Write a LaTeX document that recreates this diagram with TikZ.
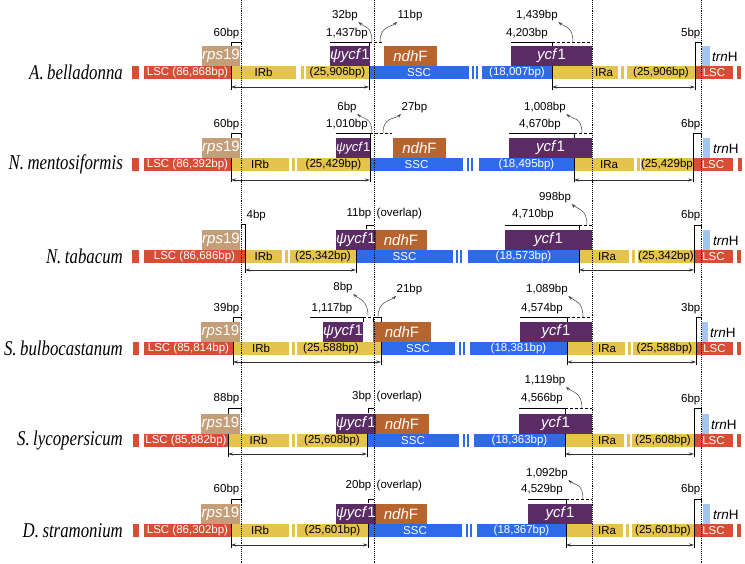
\documentclass[tikz,border=0pt]{standalone}
\usepackage{fontspec}
\setmainfont{Liberation Sans}
\newfontfamily\specfont[FakeStretch=0.8]{Liberation Serif}
\usepackage{tikz}
\usetikzlibrary{arrows.meta}
\definecolor{LSCRed}{HTML}{D64F35}
\definecolor{IRYellow}{HTML}{E4C44C}
\definecolor{SSCBlue}{HTML}{2E6BEA}
\definecolor{RpsTan}{HTML}{C49E78}
\definecolor{YcfPurple}{HTML}{5B2B66}
\definecolor{NdhBrown}{HTML}{B8642E}
\definecolor{TrnBlue}{HTML}{A3C6EE}

\begin{document}
\begin{tikzpicture}[x=1pt, y=-1pt,
  bar/.style={anchor=north west, minimum height=13pt, inner sep=0pt,
              outer sep=0pt, font=\fontsize{11.5}{11.5}\selectfont},
  lscbar/.style={bar, fill=LSCRed, text=white},
  irbar/.style={bar, fill=IRYellow, text=black},
  sscbar/.style={bar, fill=SSCBlue, text=white},
  gene/.style={anchor=south west, minimum height=20pt, inner sep=0pt,
               outer sep=0pt, text=white, font=\fontsize{15}{15}\selectfont},
  lbl/.style={inner sep=0.5pt, font=\fontsize{11.5}{11.5}\selectfont},
  trnlbl/.style={anchor=west, inner sep=0pt, font=\fontsize{13.5}{13.5}\selectfont},
  species/.style={anchor=east, inner sep=0pt,
                  font=\specfont\itshape\fontsize{21}{21}\selectfont},
  border/.style={densely dotted, line width=0.9pt},
  brk/.style={line width=0.7pt},
  gapline/.style={densely dashed, line width=0.7pt},
  curv/.style={-{Stealth[length=4pt,width=3pt]}, line width=0.5pt, black!75},
  span/.style={{Stealth[length=5pt,width=3pt]}-{Stealth[length=5pt,width=3pt]},
               line width=0.6pt, black!80}
]
  \useasboundingbox (0,0) rectangle (745,563);

  % A. belladonna
  \begin{scope}[shift={(0,66)}]
    \node[species] (a-name) at (123,6.5) {A.\,belladonna};
    \node[lscbar, minimum width=7pt] (a-lsc0) at (132,0) {};
    \node[lscbar, minimum width=87pt] (a-lsc1) at (144,0) {LSC (86,868bp)};
    \node[irbar, minimum width=65pt] (a-irb1) at (231,0) {IRb};
    \node[irbar, minimum width=3pt] (a-irb2) at (301,0) {};
    \node[irbar, minimum width=63pt] (a-irb3) at (306,0) {(25,906bp)};
    \node[sscbar, minimum width=100pt] (a-ssc1) at (369,0) {SSC};
    \node[sscbar, minimum width=2pt] (a-ssc2) at (472,0) {};
    \node[sscbar, minimum width=2pt] (a-ssc3) at (476,0) {};
    \node[sscbar, minimum width=70pt] (a-ssc4) at (482,0) {(18,007bp)};
    \node[irbar, minimum width=66pt] (a-ira1) at (552,0) {};
    \node[irbar, minimum width=3pt] (a-ira2) at (621,0) {};
    \node[irbar, minimum width=68pt] (a-ira3) at (627,0) {(25,906bp)};
    \node[lscbar, minimum width=38pt] (a-lsc2) at (695,0) {LSC};
    \node[lscbar, minimum width=4pt] (a-lsc3) at (737,0) {};
    \node[bar, anchor=center] (a-iratxt) at (604,6.5) {IRa};
    \draw[brk] (241,-21) -- (241,-24) -- (231,-24) -- (231,24);
    \draw[brk] (330,-24) -- (369,-24) -- (369,24);
    \draw[gapline] (369,-24) -- (384,-24);
    \draw[brk] (511,-24) -- (552,-24) -- (552,24);
    \draw[gapline] (552,-24) -- (592,-24);
    \draw[brk] (701,-21) -- (701,-24) -- (695,-24) -- (695,24);
    \node[gene, fill=RpsTan, minimum width=38pt] (a-rps) at (202,0) {\textit{rps}19};
    \node[gene, fill=YcfPurple, minimum width=38pt] (a-psi) at (330,0) {\textit{ψycf}1};
    \node[gene, fill=NdhBrown, minimum width=53pt] (a-ndh) at (384,0) {\textit{ndh}F};
    \node[gene, fill=YcfPurple, minimum width=81pt] (a-ycf) at (511,0) {\textit{ycf}1};
    \node[gene, fill=TrnBlue, minimum width=8pt] (a-trn) at (702,0) {};
    \node[trnlbl] (a-trnl) at (712,-9) {\textit{trn}H};
    \node[lbl, anchor=south east] (a-l60) at (240,-26) {60bp};
    \node[lbl, anchor=south] (a-l1437) at (347,-26) {1,437bp};
    \node[lbl] (a-l32) at (345,-50) {32bp};
    \node[lbl, anchor=west] (a-l11) at (397,-50) {11bp};
    \node[lbl, anchor=south] (a-l4203) at (527,-26) {4,203bp};
    \node[lbl] (a-l1439) at (537,-50) {1,439bp};
    \node[lbl, anchor=south east] (a-l5) at (701,-26) {5bp};
    \draw[curv] (372,-24) coordinate (a-c32) .. controls +(0,-16) and +(6,5) .. (a-l32.south east);
    \draw[curv] (380,-24) coordinate (a-c11) .. controls +(0,-16) and +(-6,5) .. (a-l11.south west);
    \draw[curv] (573,-24) coordinate (a-c1439) .. controls +(0,-16) and +(6,5) .. (a-l1439.south east);
    \coordinate (a-j1) at (231,21);
    \coordinate (a-j2) at (369,21);
    \coordinate (a-j3) at (552,21);
    \coordinate (a-j4) at (695,21);
    \draw[span] (a-j1) -- (a-j2);
    \draw[span] (a-j3) -- (a-j4);
  \end{scope}

  % N. mentosiformis
  \begin{scope}[shift={(0,158)}]
    \node[species] (m-name) at (123,6.5) {N.\,mentosiformis};
    \node[lscbar, minimum width=7pt] (m-lsc0) at (132,0) {};
    \node[lscbar, minimum width=87pt] (m-lsc1) at (144,0) {LSC (86,392bp)};
    \node[irbar, minimum width=58pt] (m-irb1) at (231,0) {IRb};
    \node[irbar, minimum width=3pt] (m-irb2) at (292,0) {};
    \node[irbar, minimum width=73pt] (m-irb3) at (297,0) {(25,429bp)};
    \node[sscbar, minimum width=93pt] (m-ssc1) at (370,0) {SSC};
    \node[sscbar, minimum width=2pt] (m-ssc2) at (467,0) {};
    \node[sscbar, minimum width=2pt] (m-ssc3) at (471,0) {};
    \node[sscbar, minimum width=95pt] (m-ssc4) at (479,0) {(18,495bp)};
    \node[irbar, minimum width=60pt] (m-ira1) at (574,0) {};
    \node[irbar, minimum width=3pt] (m-ira2) at (637,0) {};
    \node[irbar, minimum width=52pt] (m-ira3) at (641,0) {(25,429bp)};
    \node[lscbar, minimum width=40pt] (m-lsc2) at (693,0) {LSC};
    \node[lscbar, minimum width=4pt] (m-lsc3) at (738,0) {};
    \node[bar, anchor=center] (m-iratxt) at (609,6.5) {IRa};
    \draw[brk] (241,-21) -- (241,-25) -- (231,-25) -- (231,24);
    \draw[brk] (336,-25) -- (370,-25) -- (370,24);
    \draw[gapline] (370,-25) -- (392,-25);
    \draw[brk] (509,-25) -- (574,-25) -- (574,24);
    \draw[gapline] (574,-25) -- (592,-25);
    \draw[brk] (701,-21) -- (701,-25) -- (693,-25) -- (693,24);
    \node[gene, fill=RpsTan, minimum width=38pt] (m-rps) at (202,0) {\textit{rps}19};
    \node[gene, fill=YcfPurple, minimum width=34pt, font=\fontsize{13}{13}\selectfont] (m-psi) at (336,0) {\textit{ψycf}1};
    \node[gene, fill=NdhBrown, minimum width=53pt] (m-ndh) at (393,0) {\textit{ndh}F};
    \node[gene, fill=YcfPurple, minimum width=83pt] (m-ycf) at (509,0) {\textit{ycf}1};
    \node[gene, fill=TrnBlue, minimum width=7pt] (m-trn) at (703,0) {};
    \node[trnlbl] (m-trnl) at (713,-9) {\textit{trn}H};
    \node[lbl, anchor=south east] (m-l60) at (240,-27) {60bp};
    \node[lbl, anchor=south] (m-l1010) at (347,-27) {1,010bp};
    \node[lbl] (m-l6a) at (347,-50) {6bp};
    \node[lbl, anchor=west] (m-l27) at (401,-50) {27bp};
    \node[lbl, anchor=south] (m-l4670) at (540,-27) {4,670bp};
    \node[lbl] (m-l1008) at (545,-50) {1,008bp};
    \node[lbl, anchor=south east] (m-l6b) at (701,-27) {6bp};
    \draw[curv] (372,-25) coordinate (m-c6) .. controls +(0,-16) and +(6,5) .. (m-l6a.south east);
    \draw[curv] (383,-25) coordinate (m-c27) .. controls +(0,-16) and +(-6,5) .. (m-l27.south west);
    \draw[curv] (582,-25) coordinate (m-c1008) .. controls +(0,-16) and +(6,5) .. (m-l1008.south east);
    \coordinate (m-j1) at (231,22);
    \coordinate (m-j2) at (370,22);
    \coordinate (m-j3) at (574,22);
    \coordinate (m-j4) at (693,22);
    \draw[span] (m-j1) -- (m-j2);
    \draw[span] (m-j3) -- (m-j4);
  \end{scope}

  % N. tabacum
  \begin{scope}[shift={(0,250)}]
    \node[species] (t-name) at (123,6.5) {N.\,tabacum};
    \node[lscbar, minimum width=7pt] (t-lsc0) at (132,0) {};
    \node[lscbar, minimum width=101pt] (t-lsc1) at (144,0) {LSC (86,686bp)};
    \node[irbar, minimum width=37pt] (t-irb1) at (245,0) {IRb};
    \node[irbar, minimum width=3pt] (t-irb2) at (285,0) {};
    \node[irbar, minimum width=66pt] (t-irb3) at (290,0) {(25,342bp)};
    \node[sscbar, minimum width=97pt] (t-ssc1) at (356,0) {SSC};
    \node[sscbar, minimum width=2pt] (t-ssc2) at (456,0) {};
    \node[sscbar, minimum width=2pt] (t-ssc3) at (460,0) {};
    \node[sscbar, minimum width=111pt] (t-ssc4) at (468,0) {(18,573bp)};
    \node[irbar, minimum width=50pt] (t-ira1) at (579,0) {};
    \node[irbar, minimum width=3pt] (t-ira2) at (632,0) {};
    \node[irbar, minimum width=56pt] (t-ira3) at (638,0) {(25,342bp)};
    \node[lscbar, minimum width=39pt] (t-lsc2) at (694,0) {LSC};
    \node[lscbar, minimum width=4pt] (t-lsc3) at (737,0) {};
    \node[bar, anchor=center] (t-iratxt) at (607,6.5) {IRa};
    \draw[brk] (241,-21) -- (241,-26) -- (245,-26) -- (245,23);
    \draw[brk] (356,0) -- (356,23);
    \draw[brk] (366,-21) -- (366,-25) -- (374,-25);
    \draw[brk] (505,-25) -- (579,-25) -- (579,23);
    \draw[gapline] (579,-25) -- (592,-25);
    \draw[brk] (701,-21) -- (701,-25) -- (694,-25) -- (694,23);
    \node[gene, fill=RpsTan, minimum width=38pt] (t-rps) at (202,0) {\textit{rps}19};
    \node[gene, fill=NdhBrown, minimum width=52pt] (t-ndh) at (375,0) {\textit{ndh}F};
    \node[gene, fill=YcfPurple, minimum width=37pt] (t-psi) at (336,0) {\textit{ψycf}1};
    \node[gene, fill=YcfPurple, minimum width=87pt] (t-ycf) at (505,0) {\textit{ycf}1};
    \node[gene, fill=TrnBlue, minimum width=7pt] (t-trn) at (703,0) {};
    \node[trnlbl] (t-trnl) at (713,-9) {\textit{trn}H};
    \node[lbl, anchor=south west] (t-l4) at (246,-28) {4bp};
    \node[lbl, anchor=south east] (t-l11) at (372,-30) {11bp};
    \node[lbl, anchor=south west] (t-lov) at (376,-30) {(overlap)};
    \node[lbl, anchor=south] (t-l4710) at (533,-29) {4,710bp};
    \node[lbl] (t-l998) at (555,-52) {998bp};
    \node[lbl, anchor=south east] (t-l6) at (701,-28) {6bp};
    \draw[curv] (587,-25) coordinate (t-c998) .. controls +(0,-16) and +(6,5) .. (t-l998.south east);
    \coordinate (t-j1) at (245,20);
    \coordinate (t-j2) at (356,20);
    \coordinate (t-j3) at (579,20);
    \coordinate (t-j4) at (694,20);
    \draw[span] (t-j1) -- (t-j2);
    \draw[span] (t-j3) -- (t-j4);
  \end{scope}

  % S. bulbocastanum
  \begin{scope}[shift={(0,342)}]
    \node[species] (b-name) at (123,6.5) {S.\,bulbocastanum};
    \node[lscbar, minimum width=6pt] (b-lsc0) at (133,0) {};
    \node[lscbar, minimum width=89pt] (b-lsc1) at (144,0) {LSC (85,814bp)};
    \node[irbar, minimum width=56pt] (b-irb1) at (233,0) {IRb};
    \node[irbar, minimum width=3pt] (b-irb2) at (292,0) {};
    \node[irbar, minimum width=84pt] (b-irb3) at (297,0) {};
    \node[bar, anchor=center] (b-irbtxt) at (331,6.5) {(25,588bp)};
    \node[sscbar, minimum width=74pt] (b-ssc1) at (381,0) {SSC};
    \node[sscbar, minimum width=2pt] (b-ssc2) at (459,0) {};
    \node[sscbar, minimum width=2pt] (b-ssc3) at (463,0) {};
    \node[sscbar, minimum width=97pt] (b-ssc4) at (470,0) {(18,381bp)};
    \node[irbar, minimum width=58pt] (b-ira1) at (567,0) {};
    \node[irbar, minimum width=3pt] (b-ira2) at (628,0) {};
    \node[irbar, minimum width=63pt] (b-ira3) at (633,0) {(25,588bp)};
    \node[lscbar, minimum width=37pt] (b-lsc2) at (696,0) {LSC};
    \node[lscbar, minimum width=4pt] (b-lsc3) at (737,0) {};
    \node[bar, anchor=center] (b-iratxt) at (607,6.5) {IRa};
    \draw[brk] (241,-22) -- (241,-25) -- (233,-25) -- (233,23);
    \draw[brk] (310,-25) -- (363,-25) -- (363,-20);
    \draw[gapline] (363,-25) -- (373,-25);
    \draw[brk] (373,-20) -- (373,-25) -- (381,-25) -- (381,23);
    \draw[brk] (520,-25) -- (567,-25) -- (567,23);
    \draw[gapline] (567,-25) -- (592,-25);
    \draw[brk] (701,-22) -- (701,-25) -- (696,-25) -- (696,23);
    \node[gene, fill=RpsTan, minimum width=39pt] (b-rps) at (201,0) {\textit{rps}19};
    \node[gene, fill=YcfPurple, minimum width=40pt] (b-psi) at (323,0) {\textit{ψycf}1};
    \node[gene, fill=NdhBrown, minimum width=58pt] (b-ndh) at (373,0) {\textit{ndh}F};
    \node[gene, fill=YcfPurple, minimum width=72pt] (b-ycf) at (520,0) {\textit{ycf}1};
    \node[gene, fill=TrnBlue, minimum width=6pt] (b-trn) at (702,0) {};
    \node[trnlbl] (b-trnl) at (710,-9) {\textit{trn}H};
    \node[lbl, anchor=south east] (b-l39) at (240,-27) {39bp};
    \node[lbl, anchor=south] (b-l1117) at (332,-27) {1,117bp};
    \node[lbl] (b-l8) at (343,-54) {8bp};
    \node[lbl, anchor=west] (b-l21) at (396,-52) {21bp};
    \node[lbl, anchor=south] (b-l4574) at (542,-27) {4,574bp};
    \node[lbl] (b-l1089) at (547,-52) {1,089bp};
    \node[lbl, anchor=south east] (b-l3) at (701,-27) {3bp};
    \draw[curv] (368,-27) coordinate (b-c8) .. controls +(0,-14) and +(6,5) .. (b-l8.south east);
    \draw[curv] (378,-25) coordinate (b-c21) .. controls +(0,-16) and +(-6,5) .. (b-l21.south west);
    \draw[curv] (583,-25) coordinate (b-c1089) .. controls +(0,-16) and +(6,5) .. (b-l1089.south east);
    \coordinate (b-j1) at (233,20);
    \coordinate (b-j2) at (381,20);
    \coordinate (b-j3) at (567,20);
    \coordinate (b-j4) at (696,20);
    \draw[span] (b-j1) -- (b-j2);
    \draw[span] (b-j3) -- (b-j4);
  \end{scope}

  % S. lycopersicum
  \begin{scope}[shift={(0,434)}]
    \node[species] (l-name) at (123,6.5) {S.\,lycopersicum};
    \node[lscbar, minimum width=6pt] (l-lsc0) at (133,0) {};
    \node[lscbar, minimum width=84pt] (l-lsc1) at (144,0) {LSC (85,882bp)};
    \node[irbar, minimum width=61pt] (l-irb1) at (228,0) {IRb};
    \node[irbar, minimum width=3pt] (l-irb2) at (292,0) {};
    \node[irbar, minimum width=70pt] (l-irb3) at (297,0) {(25,608bp)};
    \node[sscbar, minimum width=92pt] (l-ssc1) at (367,0) {SSC};
    \node[sscbar, minimum width=2pt] (l-ssc2) at (463,0) {};
    \node[sscbar, minimum width=2pt] (l-ssc3) at (467,0) {};
    \node[sscbar, minimum width=91pt] (l-ssc4) at (474,0) {(18,363bp)};
    \node[irbar, minimum width=59pt] (l-ira1) at (565,0) {};
    \node[irbar, minimum width=3pt] (l-ira2) at (627,0) {};
    \node[irbar, minimum width=62pt] (l-ira3) at (632,0) {(25,608bp)};
    \node[lscbar, minimum width=39pt] (l-lsc2) at (694,0) {LSC};
    \node[lscbar, minimum width=4pt] (l-lsc3) at (737,0) {};
    \node[bar, anchor=center] (l-iratxt) at (607,6.5) {IRa};
    \draw[brk] (241,-22) -- (241,-26) -- (228,-26) -- (228,23);
    \draw[brk] (367,0) -- (367,23);
    \draw[brk] (368,-21) -- (368,-26) -- (374,-26);
    \draw[brk] (519,-26) -- (565,-26) -- (565,23);
    \draw[gapline] (565,-26) -- (592,-26);
    \draw[brk] (701,-22) -- (701,-26) -- (694,-26) -- (694,23);
    \node[gene, fill=RpsTan, minimum width=39pt] (l-rps) at (201,0) {\textit{rps}19};
    \node[gene, fill=NdhBrown, minimum width=54pt] (l-ndh) at (375,0) {\textit{ndh}F};
    \node[gene, fill=YcfPurple, minimum width=37pt] (l-psi) at (336,0) {\textit{ψycf}1};
    \node[gene, fill=YcfPurple, minimum width=73pt] (l-ycf) at (519,0) {\textit{ycf}1};
    \node[gene, fill=TrnBlue, minimum width=7pt] (l-trn) at (702,0) {};
    \node[trnlbl] (l-trnl) at (711,-9) {\textit{trn}H};
    \node[lbl, anchor=south east] (l-l88) at (240,-29) {88bp};
    \node[lbl, anchor=south east] (l-l3) at (372,-31) {3bp};
    \node[lbl, anchor=south west] (l-lov) at (376,-31) {(overlap)};
    \node[lbl, anchor=south] (l-l4566) at (542,-29) {4,566bp};
    \node[lbl] (l-l1119) at (545,-53) {1,119bp};
    \node[lbl, anchor=south east] (l-l6) at (701,-28) {6bp};
    \draw[curv] (582,-26) coordinate (l-c1119) .. controls +(0,-16) and +(6,5) .. (l-l1119.south east);
    \coordinate (l-j1) at (228,20);
    \coordinate (l-j2) at (367,20);
    \coordinate (l-j3) at (565,20);
    \coordinate (l-j4) at (694,20);
    \draw[span] (l-j1) -- (l-j2);
    \draw[span] (l-j3) -- (l-j4);
  \end{scope}

  % D. stramonium
  \begin{scope}[shift={(0,524)}]
    \node[species] (d-name) at (123,6.5) {D.\,stramonium};
    \node[lscbar, minimum width=6pt] (d-lsc0) at (133,0) {};
    \node[lscbar, minimum width=87pt] (d-lsc1) at (144,0) {LSC (86,302bp)};
    \node[irbar, minimum width=58pt] (d-irb1) at (231,0) {IRb};
    \node[irbar, minimum width=3pt] (d-irb2) at (292,0) {};
    \node[irbar, minimum width=71pt] (d-irb3) at (297,0) {(25,601bp)};
    \node[sscbar, minimum width=94pt] (d-ssc1) at (368,0) {SSC};
    \node[sscbar, minimum width=2pt] (d-ssc2) at (466,0) {};
    \node[sscbar, minimum width=2pt] (d-ssc3) at (470,0) {};
    \node[sscbar, minimum width=89pt] (d-ssc4) at (477,0) {(18,367bp)};
    \node[irbar, minimum width=57pt] (d-ira1) at (566,0) {};
    \node[irbar, minimum width=3pt] (d-ira2) at (626,0) {};
    \node[irbar, minimum width=62pt] (d-ira3) at (632,0) {(25,601bp)};
    \node[lscbar, minimum width=39pt] (d-lsc2) at (694,0) {LSC};
    \node[lscbar, minimum width=4pt] (d-lsc3) at (737,0) {};
    \node[bar, anchor=center] (d-iratxt) at (607,6.5) {IRa};
    \draw[brk] (241,-21) -- (241,-25) -- (231,-25) -- (231,24);
    \draw[brk] (368,0) -- (368,24);
    \draw[brk] (368,-21) -- (368,-25) -- (374,-25);
    \draw[brk] (528,-25) -- (566,-25) -- (566,24);
    \draw[gapline] (566,-25) -- (592,-25);
    \draw[brk] (701,-21) -- (701,-25) -- (694,-25) -- (694,24);
    \node[gene, fill=RpsTan, minimum width=39pt] (d-rps) at (201,0) {\textit{rps}19};
    \node[gene, fill=NdhBrown, minimum width=52pt] (d-ndh) at (375,0) {\textit{ndh}F};
    \node[gene, fill=YcfPurple, minimum width=37pt] (d-psi) at (336,0) {\textit{ψycf}1};
    \node[gene, fill=YcfPurple, minimum width=64pt] (d-ycf) at (528,0) {\textit{ycf}1};
    \node[gene, fill=TrnBlue, minimum width=7pt] (d-trn) at (703,0) {};
    \node[trnlbl] (d-trnl) at (713,-9) {\textit{trn}H};
    \node[lbl, anchor=south east] (d-l60) at (240,-28) {60bp};
    \node[lbl, anchor=south east] (d-l20) at (372,-32) {20bp};
    \node[lbl, anchor=south west] (d-lov) at (376,-32) {(overlap)};
    \node[lbl, anchor=south] (d-l4529) at (542,-28) {4,529bp};
    \node[lbl] (d-l1092) at (547,-50) {1,092bp};
    \node[lbl, anchor=south east] (d-l6) at (701,-28) {6bp};
    \draw[curv] (583,-25) coordinate (d-c1092) .. controls +(0,-16) and +(6,5) .. (d-l1092.south east);
    \coordinate (d-j1) at (231,21);
    \coordinate (d-j2) at (368,21);
    \coordinate (d-j3) at (566,21);
    \coordinate (d-j4) at (694,21);
    \draw[span] (d-j1) -- (d-j2);
    \draw[span] (d-j3) -- (d-j4);
  \end{scope}

  % region borders
  \draw[border] (241,0) -- (241,563);
  \draw[border] (374,0) -- (374,563);
  \draw[border] (592,0) -- (592,563);
  \draw[border] (701,0) -- (701,563);
\end{tikzpicture}
\end{document}
